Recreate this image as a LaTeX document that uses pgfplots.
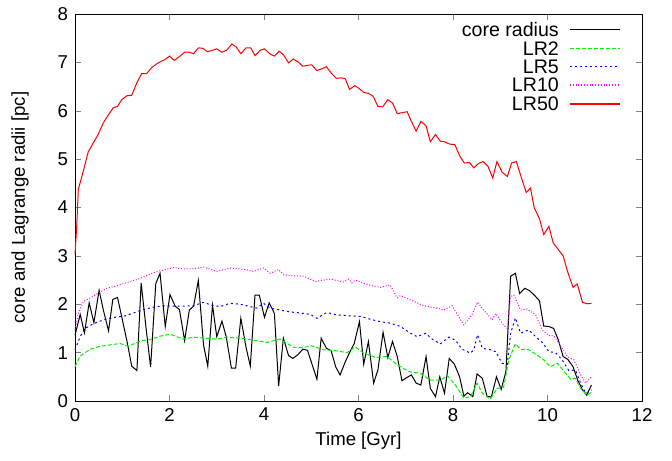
\documentclass[border=0pt]{standalone}
\usepackage{fontspec}
\setmainfont{Liberation Sans}
\usepackage{pgfplots}
\pgfplotsset{compat=1.18}

\definecolor{lrgreen}{RGB}{0,240,0}
\definecolor{lrblue}{RGB}{0,0,255}
\definecolor{lrmagenta}{RGB}{255,0,255}
\definecolor{lrred}{RGB}{255,0,0}

\tikzset{
  corestyle/.style={black, line width=0.5pt},
  lrtwo/.style={lrgreen, line width=0.5pt, dash pattern=on 2pt off 1pt},
  lrfive/.style={lrblue, line width=0.5pt, dash pattern=on 1pt off 1.5pt},
  lrten/.style={lrmagenta, line width=0.5pt, dash pattern=on 0.5pt off 0.9pt},
  lrfifty/.style={lrred, line width=0.5pt},
  keyline/.style={line width=0.75pt},
  keytext/.style={anchor=east, inner sep=0pt, font=\fontsize{9.8}{11}\selectfont},
}

\begin{document}
\begin{tikzpicture}
  % keep the page at the reference's 672x460 proportions (1 px = 0.5 pt)
  \path[use as bounding box] (-37.5pt,-29.5pt) rectangle (298.5pt,200.5pt);
  \begin{axis}[
      width=283.5pt, height=193.5pt,
      scale only axis,
      xmin=0, xmax=12,
      ymin=0, ymax=8,
      xtick={0,2,...,12},
      ytick={0,1,...,8},
      tick align=inside,
      major tick length=3pt,
      font=\fontsize{9.3}{11}\selectfont,
      /pgf/number format/assume math mode=true,
      xlabel={Time [Gyr]},
      ylabel={core and Lagrange radii [pc]},
      xlabel style={at={(axis description cs:0.5,-0.103)}, anchor=center},
      ylabel style={at={(axis description cs:-0.097,0.5)}, anchor=center},
      clip=false,
    ]

    % key lines (gnuplot style: text left, sample right)
    \draw[corestyle, keyline] (axis description cs:0.873,0.960) -- (axis description cs:0.961,0.960);
    \draw[lrtwo, keyline] (axis description cs:0.873,0.911) -- (axis description cs:0.961,0.911);
    \draw[lrfive, keyline] (axis description cs:0.873,0.864) -- (axis description cs:0.961,0.864);
    \draw[lrten, keyline] (axis description cs:0.873,0.817) -- (axis description cs:0.961,0.817);
    \draw[lrfifty, keyline] (axis description cs:0.873,0.768) -- (axis description cs:0.961,0.768);

    % core radius
    \addplot[corestyle] coordinates {
        (0.00,1.36) (0.11,1.79) (0.20,1.41) (0.30,2.03) (0.40,1.62) (0.51,2.29) (0.60,1.88) (0.71,1.45) (0.80,2.10) (0.90,2.14)
        (1.00,1.69) (1.11,1.19) (1.20,0.72) (1.31,0.63) (1.40,2.44) (1.50,1.54) (1.60,0.70) (1.71,2.43) (1.80,2.64) (1.91,1.54)
        (2.01,2.20) (2.12,1.96) (2.21,1.89) (2.32,1.25) (2.42,1.88) (2.51,1.96) (2.61,2.49) (2.72,1.16) (2.81,0.72) (2.91,1.98)
        (3.00,1.33) (3.11,1.65) (3.20,1.33) (3.31,0.68) (3.40,0.68) (3.51,1.71) (3.62,1.11) (3.71,0.72) (3.81,2.19) (3.90,2.19)
        (4.01,1.73) (4.11,2.03) (4.22,1.81) (4.31,0.31) (4.41,1.30) (4.52,0.94) (4.61,0.88) (4.72,0.96) (4.82,1.07) (4.92,1.05)
        (5.01,0.78) (5.12,0.45) (5.21,1.30) (5.32,1.09) (5.42,1.04) (5.52,0.70) (5.61,0.54) (5.72,0.81) (5.81,1.00) (5.91,1.19)
        (6.02,1.64) (6.11,0.76) (6.21,1.23) (6.32,0.37) (6.41,0.64) (6.52,1.42) (6.62,0.90) (6.72,1.23) (6.82,0.92) (6.92,0.42)
        (7.03,0.49) (7.12,0.54) (7.22,0.37) (7.32,0.33) (7.43,0.92) (7.52,0.26) (7.63,0.09) (7.72,0.50) (7.82,0.16) (7.92,0.88)
        (8.03,0.76) (8.14,0.50) (8.23,0.10) (8.31,0.17) (8.42,0.09) (8.51,0.56) (8.62,0.47) (8.72,0.10) (8.81,0.08) (8.92,0.50)
        (9.02,0.24) (9.12,0.61) (9.22,2.58) (9.32,2.64) (9.41,2.22) (9.52,2.33) (9.62,2.28) (9.72,2.19) (9.83,2.07) (9.92,1.55)
        (10.03,1.54) (10.13,1.50) (10.23,1.26) (10.33,0.92) (10.43,0.86) (10.54,0.71) (10.64,0.43) (10.74,0.23) (10.83,0.12) (10.93,0.33)
      };

    % LR2
    \addplot[lrtwo] coordinates {
        (0.00,0.71) (0.11,0.93) (0.32,1.07) (0.53,1.13) (0.74,1.16) (0.95,1.19) (1.13,1.13) (1.38,1.24) (1.59,1.27) (1.80,1.34)
        (2.01,1.38) (2.29,1.28) (2.51,1.32) (2.72,1.30) (3.00,1.28) (3.21,1.32) (3.50,1.30) (3.78,1.26) (4.06,1.21) (4.34,1.28)
        (4.62,1.11) (4.80,1.10) (5.01,1.14) (5.26,1.06) (5.51,1.04) (5.76,1.00) (5.93,1.12) (6.11,0.99) (6.36,0.90) (6.60,0.92)
        (6.82,0.75) (7.06,0.61) (7.31,0.57) (7.52,0.43) (7.73,0.43) (7.88,0.52) (8.05,0.33) (8.23,0.06) (8.37,0.09) (8.51,0.37)
        (8.62,0.16) (8.79,0.04) (8.93,0.26) (9.07,0.28) (9.18,0.85) (9.32,1.18) (9.43,1.07) (9.60,1.06) (9.78,0.95) (9.92,0.85)
        (10.06,0.71) (10.21,0.78) (10.35,0.61) (10.49,0.45) (10.59,0.47) (10.70,0.26) (10.84,0.12) (10.93,0.19)
      };

    % LR5
    \addplot[lrfive] coordinates {
        (0.00,1.06) (0.11,1.33) (0.21,1.50) (0.42,1.61) (0.64,1.69) (0.85,1.73) (1.06,1.76) (1.24,1.82) (1.41,1.88) (1.66,1.94)
        (1.87,1.97) (2.08,1.96) (2.29,1.96) (2.51,1.97) (2.72,2.04) (2.86,1.99) (3.07,1.95) (3.28,2.02) (3.50,2.00) (3.71,1.95)
        (3.85,1.92) (3.99,2.02) (4.13,1.92) (4.34,1.88) (4.56,1.84) (4.77,1.82) (4.98,1.79) (5.12,1.71) (5.33,1.83) (5.54,1.78)
        (5.83,1.76) (6.04,1.75) (6.25,1.69) (6.46,1.64) (6.67,1.61) (6.89,1.54) (7.10,1.40) (7.24,1.33) (7.42,1.40) (7.56,1.28)
        (7.73,1.18) (7.91,1.32) (8.05,1.26) (8.19,1.07) (8.37,0.99) (8.44,1.06) (8.52,1.37) (8.62,1.09) (8.79,1.06) (8.90,1.02)
        (9.04,0.78) (9.15,0.76) (9.22,1.40) (9.32,1.72) (9.43,1.40) (9.60,1.47) (9.75,1.33) (9.89,1.21) (10.03,1.02) (10.17,1.00)
        (10.31,0.85) (10.45,0.63) (10.59,0.64) (10.70,0.37) (10.81,0.16) (10.93,0.23)
      };

    % LR10
    \addplot[lrten] coordinates {
        (0.00,1.47) (0.07,1.81) (0.18,2.06) (0.32,2.13) (0.49,2.23) (0.67,2.33) (0.88,2.38) (1.10,2.45) (1.31,2.51) (1.52,2.59)
        (1.73,2.68) (1.87,2.70) (2.08,2.76) (2.29,2.73) (2.51,2.73) (2.72,2.77) (3.00,2.68) (3.28,2.75) (3.57,2.72) (3.78,2.68)
        (3.99,2.75) (4.13,2.64) (4.31,2.72) (4.41,2.61) (4.62,2.59) (4.84,2.58) (5.08,2.47) (5.40,2.52) (5.68,2.46) (5.79,2.52)
        (5.86,2.44) (5.93,2.50) (6.25,2.39) (6.46,2.35) (6.67,2.40) (6.82,2.13) (6.89,2.18) (7.10,2.09) (7.38,1.97) (7.66,1.92)
        (7.80,1.88) (7.98,1.97) (8.23,1.57) (8.40,1.78) (8.52,2.04) (8.65,1.88) (8.83,1.68) (8.90,1.81) (9.07,1.57) (9.15,1.50)
        (9.22,2.16) (9.29,2.19) (9.43,1.88) (9.57,1.90) (9.75,1.78) (9.89,1.47) (10.03,1.35) (10.13,1.35) (10.28,1.14) (10.42,0.92)
        (10.56,0.85) (10.70,0.54) (10.81,0.37) (10.93,0.50)
      };

    % LR50
    \addplot[lrfifty] coordinates {
        (0.00,3.02) (0.04,3.68) (0.07,4.37) (0.18,4.77) (0.28,5.15) (0.39,5.34) (0.49,5.51) (0.60,5.75) (0.71,5.92) (0.81,6.06)
        (0.90,6.09) (0.99,6.23) (1.10,6.31) (1.20,6.32) (1.31,6.58) (1.41,6.77) (1.52,6.77) (1.62,6.89) (1.73,6.97) (1.84,7.03)
        (1.91,7.06) (2.00,7.13) (2.10,7.04) (2.21,7.12) (2.32,7.21) (2.42,7.21) (2.51,7.18) (2.61,7.30) (2.71,7.29) (2.80,7.22)
        (2.91,7.25) (3.00,7.28) (3.11,7.21) (3.21,7.25) (3.32,7.38) (3.41,7.32) (3.51,7.18) (3.62,7.30) (3.72,7.30) (3.81,7.14)
        (3.92,7.25) (4.01,7.28) (4.12,7.18) (4.22,7.13) (4.32,7.23) (4.41,7.16) (4.52,6.99) (4.62,7.07) (4.72,7.01) (4.82,6.92)
        (4.93,6.94) (5.01,6.95) (5.12,6.83) (5.23,6.87) (5.32,6.91) (5.42,6.78) (5.53,6.67) (5.64,6.68) (5.72,6.66) (5.81,6.44)
        (5.92,6.52) (6.00,6.47) (6.11,6.38) (6.21,6.36) (6.31,6.30) (6.41,6.09) (6.51,6.08) (6.62,6.23) (6.72,6.16) (6.82,5.94)
        (6.92,5.96) (7.03,5.98) (7.12,5.78) (7.22,5.58) (7.32,5.78) (7.43,5.69) (7.52,5.36) (7.63,5.51) (7.73,5.37) (7.82,5.36)
        (7.93,5.31) (8.04,5.30) (8.14,5.07) (8.24,4.92) (8.35,4.93) (8.44,4.82) (8.54,4.91) (8.64,4.95) (8.74,4.85) (8.84,4.61)
        (8.93,4.95) (9.04,4.73) (9.15,4.64) (9.24,4.92) (9.34,4.95) (9.44,4.64) (9.55,4.31) (9.64,4.40) (9.72,3.99) (9.83,3.77)
        (9.92,3.44) (10.03,3.61) (10.12,3.27) (10.23,3.13) (10.33,3.00) (10.43,2.66) (10.54,2.35) (10.63,2.42) (10.74,2.04) (10.84,2.01)
        (10.93,2.02)
      };

    % key texts
    \node[keytext] at (axis description cs:0.854,0.960) {core radius};
    \node[keytext] at (axis description cs:0.854,0.911) {LR2};
    \node[keytext] at (axis description cs:0.854,0.864) {LR5};
    \node[keytext] at (axis description cs:0.854,0.817) {LR10};
    \node[keytext] at (axis description cs:0.854,0.768) {LR50};
  \end{axis}
\end{tikzpicture}
\end{document}
